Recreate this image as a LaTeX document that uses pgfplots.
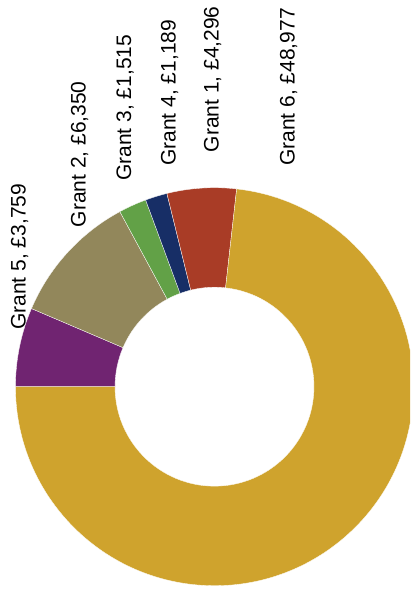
\documentclass[border=0pt]{standalone}
\usepackage{pgfplots}
\pgfplotsset{compat=1.18}
\usepackage{pgfplotstable}
\usepackage{xfp}
\usepackage{fontspec}
\setmainfont{Liberation Sans}

\definecolor{cgold}{HTML}{CFA32D}
\definecolor{cred}{HTML}{A93C26}
\definecolor{cnavy}{HTML}{172E66}
\definecolor{cgreen}{HTML}{62A147}
\definecolor{ckhaki}{HTML}{92875B}
\definecolor{cpurple}{HTML}{702471}

\tikzset{lbl/.style={rotate=90, anchor=base west, inner sep=0pt,
    font=\fontsize{21}{25}\selectfont, text=black}}

% slice sizes as drawn, clockwise from 9 o'clock
\pgfplotstableread{
slice value
purple 4296
khaki 7150
green 1515
navy 1189
red 3759
gold 48977
}\donutdata

\pgfplotstablegetelem{0}{value}\of\donutdata \edef\vA{\pgfplotsretval}
\pgfplotstablegetelem{1}{value}\of\donutdata \edef\vB{\pgfplotsretval}
\pgfplotstablegetelem{2}{value}\of\donutdata \edef\vC{\pgfplotsretval}
\pgfplotstablegetelem{3}{value}\of\donutdata \edef\vD{\pgfplotsretval}
\pgfplotstablegetelem{4}{value}\of\donutdata \edef\vE{\pgfplotsretval}
\pgfplotstablegetelem{5}{value}\of\donutdata \edef\vF{\pgfplotsretval}
\edef\total{\fpeval{\vA+\vB+\vC+\vD+\vE+\vF}}
\edef\aO{180}
\edef\aA{\fpeval{round(\aO-360*\vA/\total,4)}}
\edef\aB{\fpeval{round(\aA-360*\vB/\total,4)}}
\edef\aC{\fpeval{round(\aB-360*\vC/\total,4)}}
\edef\aD{\fpeval{round(\aC-360*\vD/\total,4)}}
\edef\aE{\fpeval{round(\aD-360*\vE/\total,4)}}
\edef\aF{\fpeval{round(\aE-360*\vF/\total,4)}}

\newcommand\seg[3]{%
  \fill[#3, draw=white, line width=0.3pt] (axis cs:214.5,205.3) ++(#1:199pt)
    arc[start angle=#1, end angle=#2, radius=199pt]
    -- ++(#2+180:99.5pt)
    arc[start angle=#2, end angle=#1, radius=99.5pt] -- cycle;}

\begin{document}
\begin{tikzpicture}
\begin{axis}[
  scale only axis, width=410pt, height=592pt,
  xmin=0, xmax=410, ymin=0, ymax=592,
  hide axis, clip=true
]
\seg{\aO}{\aA}{cpurple}
\seg{\aA}{\aB}{ckhaki}
\seg{\aB}{\aC}{cgreen}
\seg{\aC}{\aD}{cnavy}
\seg{\aD}{\aE}{cred}
\seg{\aE}{\aF}{cgold}

\node[lbl] at (axis cs:25.5,262) {Grant 5, £3,759};
\node[lbl] at (axis cs:85.5,364.5) {Grant 2, £6,350};
\node[lbl] at (axis cs:131,411) {Grant 3, £1,515};
\node[lbl] at (axis cs:175.5,426) {Grant 4, £1,189};
\node[lbl] at (axis cs:218.5,439.5) {Grant 1, £4,296};
\node[lbl] at (axis cs:294.5,426) {Grant 6, £48,977};
\end{axis}
\pgfresetboundingbox
\path[use as bounding box] (0,0) rectangle (410pt,592pt);
\end{tikzpicture}
\end{document}
